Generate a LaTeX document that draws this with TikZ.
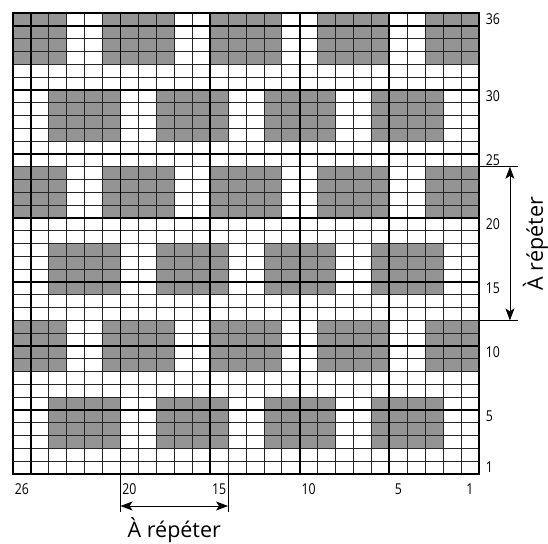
\documentclass[tikz,border=0pt]{standalone}
\usepackage{fontspec}
\setmainfont{Open Sans}
\newfontfamily\numfont{Open Sans}[FakeStretch=0.82]
\usepackage{tikz}
\usetikzlibrary{arrows.meta}
\definecolor{maille}{RGB}{148,148,148}

\begin{document}
\begin{tikzpicture}[x=17.92pt,y=12.8pt,
        fin/.style={line width=0.7pt,black!85},
        epais/.style={line width=1.7pt},
        num/.style={font=\numfont\fontsize{15}{15}\selectfont,inner sep=0pt},
        txt/.style={font=\fontsize{21.5}{21.5}\selectfont,inner sep=0pt},
        fleche/.style={line width=0.8pt,{Stealth[length=12pt,width=9pt,inset=3pt]}-{Stealth[length=12pt,width=9pt,inset=3pt]}}]
        \useasboundingbox (-13pt,-69pt) rectangle (535pt,474pt);
        \begin{scope} % cases grises
            \clip (0,0) rectangle (26,36);
            \foreach \y in {0,12,24}{
                \foreach \x in {0,6,...,24}{
                    \fill[maille] (\x-1,\y+8) rectangle ++(4,4);
                    \fill[maille] (\x+2,\y+2) rectangle ++(4,4);
                }
            }
        \end{scope}
        \foreach \x in {1,...,25} \draw[fin] (\x,0) -- (\x,36);
        \foreach \y in {1,...,35} \draw[fin] (0,\y) -- (26,\y);
        \foreach \x in {1,6,...,21} \draw[epais] (\x,0) -- (\x,36);
        \foreach \y in {5,10,...,35} \draw[epais] (0,\y) -- (26,\y);
        \draw[line width=2.2pt] (0,0) rectangle (26,36); % bord
        % numeros des rangs et des mailles
        \foreach \r in {1,5,10,15,20,25,30,36} \node[num,anchor=west] (rang\r) at (26.38,\r-0.5) {\r};
        \foreach \c in {26,20,15,10,5,1} \node[num] (col\c) at (26.5-\c,-1.2) {\c};
        % repetition horizontale
        \coordinate (h1) at (6,0); \coordinate (h2) at (12,0);
        \coordinate (hb1) at (6,-3); \coordinate (hb2) at (12,-3);
        \coordinate (hf1) at (6,-2.5); \coordinate (hf2) at (12,-2.5);
        \draw[line width=0.6pt] (h1) -- (hb1); \draw[line width=0.6pt] (h2) -- (hb2);
        \draw[fleche] (hf1) -- (hf2);
        \node[txt] (reph) at (9,-4.4) {À répéter};
        % repetition verticale
        \coordinate (v1) at (26,24); \coordinate (v2) at (26,12);
        \coordinate (vb1) at (28.18,24); \coordinate (vb2) at (28.18,12);
        \coordinate (vf1) at (27.73,24); \coordinate (vf2) at (27.73,12);
        \draw[line width=0.6pt] (v1) -- (vb1); \draw[line width=0.6pt] (v2) -- (vb2);
        \draw[fleche] (vf1) -- (vf2);
        \node[txt,rotate=90] (repv) at (29.15,18) {À répéter};
    \end{tikzpicture}
\end{document}
